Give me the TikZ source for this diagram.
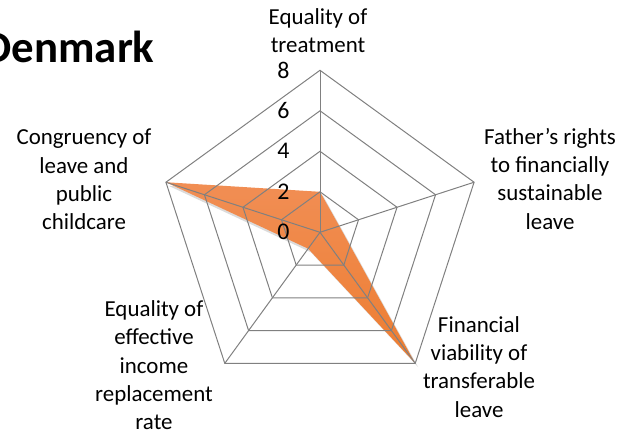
\documentclass[tikz,border=0pt]{standalone}
\usepackage{fontspec}
\setmainfont{Carlito}
\usepackage{xcolor}
\usetikzlibrary{positioning}

\definecolor{gridgray}{RGB}{128,128,128}
\definecolor{orangetop}{RGB}{241,142,84}
\definecolor{orangebot}{RGB}{237,125,49}

\tikzset{
	gridline/.style={draw=gridgray,line width=1bp},
	axislabel/.style={align=center,anchor=base,font=\fontsize{23}{28.5}\selectfont},
	ticklabel/.style={anchor=east,font=\fontsize{24}{28}\selectfont},
	series/.style={top color=orangetop,bottom color=orangebot,draw=none},
	seriesshadow/.style={fill=black,fill opacity=0.14,draw=none}
}

\begin{document}
\begin{tikzpicture}[x=1bp,y=1bp]
	\useasboundingbox (0,0) rectangle (640,443);
	\coordinate (O) at (320,210.7);
	%
	\begin{scope}[shift={(O)},x=20.25bp,y=20.25bp]
		\foreach \a/\n in {90/top,18/right,-54/lowright,-126/lowleft,162/left}
			\coordinate (\n) at (\a:8);
		% series
		\path[seriesshadow] ([shift={(0.14,-0.18)}]90:2) -- ([shift={(0.14,-0.18)}]18:1) -- ([shift={(0.14,-0.18)}]-54:8) -- ([shift={(0.14,-0.18)}]-126:1) -- ([shift={(0.14,-0.18)}]162:8) -- cycle;
		\path[series] (90:2) -- (18:1) -- (lowright) -- (-126:1) -- (left) -- cycle;
		% grid
		\foreach \k in {2,4,6,8}
			\draw[gridline] (90:\k) -- (18:\k) -- (-54:\k) -- (-126:\k) -- (162:\k) -- cycle;
		\foreach \n in {top,right,lowright,lowleft,left}
			\draw[gridline] (0,0) -- (\n);
		\foreach \k in {0,2,4,6,8}
			\node[ticklabel] (tick\k) at ([xshift=-27bp]90:\k) {\k};
	\end{scope}
	%
	\node[axislabel] (ltop) at (318,390) {Equality of\\treatment};
	\node[axislabel] (lright) at (550,213.7) {Father’s rights\\to financially\\sustainable\\leave};
	\node[axislabel] (llowright) at (479,25.7) {Financial\\viability of\\transferable\\leave};
	\node[axislabel] (llowleft) at (154,13) {Equality of\\effective\\income\\replacement\\rate};
	\node[axislabel] (lleft) at (84,213) {Congruency of\\leave and\\public\\childcare};
	\node[anchor=base east,font=\fontsize{45}{54}\selectfont\bfseries] (title) at (158,380) {Denmark};
\end{tikzpicture}
\end{document}
